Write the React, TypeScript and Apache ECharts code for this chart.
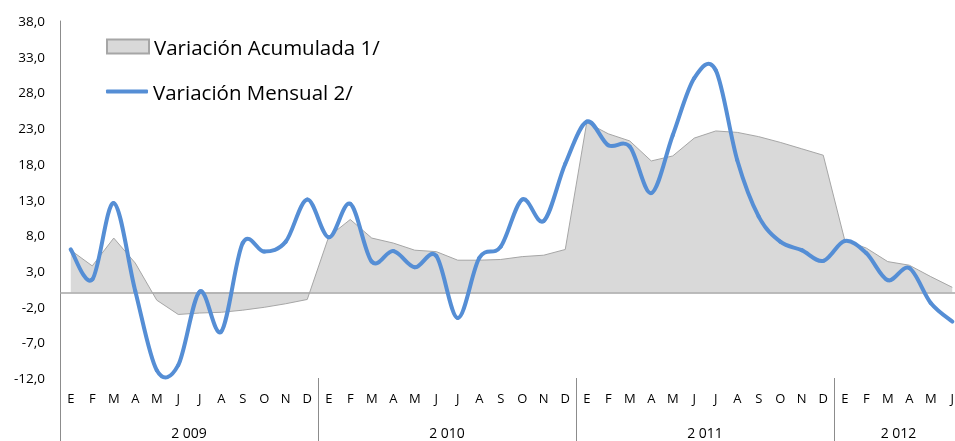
import React, { useEffect, useRef } from "react";
import * as echarts from "echarts";

const monthLabels = [
  "E", "F", "M", "A", "M", "J", "J", "A", "S", "O", "N", "D",
  "E", "F", "M", "A", "M", "J", "J", "A", "S", "O", "N", "D",
  "E", "F", "M", "A", "M", "J", "J", "A", "S", "O", "N", "D",
  "E", "F", "M", "A", "M", "J",
];
const years = ["2 009", "2 010", "2 011", "2 012"];
const monthsPerYear = [12, 12, 12, 6];

const acumulada = [
  5.9, 3.7, 7.6, 4.1, -1.1, -3.1, -2.9, -2.8, -2.5, -2.1, -1.6, -1.0,
  7.8, 10.2, 7.6, 6.9, 5.9, 5.7, 4.5, 4.5, 4.6, 5.0, 5.2, 6.0,
  23.8, 22.2, 21.2, 18.4, 19.1, 21.6, 22.6, 22.4, 21.8, 21.0, 20.1, 19.2,
  7.3, 6.2, 4.3, 3.8, 2.2, 0.7,
];
const mensual = [
  6.0, 1.8, 12.5, 0.2, -10.9, -10.2, 0.1, -5.5, 6.9, 5.7, 7.1, 13.0,
  7.7, 12.4, 4.3, 5.8, 3.5, 5.1, -3.6, 4.8, 6.4, 13.0, 10.0, 18.0,
  23.9, 20.6, 20.4, 13.9, 22.0, 30.0, 31.1, 18.5, 10.6, 7.1, 5.9, 4.4,
  7.2, 5.5, 1.7, 3.4, -1.5, -4.1,
];
const yTicks = [-12, -7, -2, 3, 8, 13, 18, 23, 28, 33, 38];

const FONT = "Open Sans";
const BLUE = "#558ed5";

export default function App() {
  const ref = useRef<HTMLDivElement>(null);
  useEffect(() => {
    if (!ref.current) return;
    const chart = echarts.init(ref.current, null, { renderer: "svg" });

    const totalMonths = monthsPerYear.reduce((a, b) => a + b, 0);
    const halfCount = totalMonths * 2 + 1;
    const yearAxisData: string[] = new Array(halfCount).fill("");
    const yearStarts: number[] = [];
    let start = 0;
    monthsPerYear.forEach((n, i) => {
      yearStarts.push(start * 2);
      yearAxisData[start * 2 + n] = years[i];
      start += n;
    });

    const n = mensual.length;
    const clamp = (k: number) => Math.max(0, Math.min(n - 1, k));

    chart.setOption({
      animation: false,
      grid: {
        left: 60,
        top: 21,
        bottom: 63,
        width: 903,
        containLabel: false,
        outerBoundsMode: "none",
      },
      legend: [
        {
          data: [{ name: "Variación Acumulada 1/", icon: "rect" }],
          left: 101,
          top: 31,
          itemWidth: 42,
          itemHeight: 14,
          textStyle: { fontFamily: FONT, fontSize: 20.5, color: "#000" },
        },
        {
          data: [{ name: "Variación Mensual 2/", icon: "roundRect" }],
          left: 101,
          top: 76,
          itemWidth: 42,
          itemHeight: 4,
          textStyle: { fontFamily: FONT, fontSize: 20.5, color: "#000" },
        },
      ],
      xAxis: [
        {
          type: "category",
          data: monthLabels,
          boundaryGap: true,
          position: "bottom",
          axisLine: { show: false, onZero: false },
          axisTick: { show: false },
          axisLabel: {
            interval: 0,
            margin: 13,
            fontFamily: FONT,
            fontSize: 13,
            color: "#000",
          },
        },
        {
          type: "category",
          data: yearAxisData,
          boundaryGap: false,
          position: "bottom",
          axisLine: { show: false, onZero: false },
          axisTick: {
            show: true,
            length: 63,
            interval: (index: number) => yearStarts.indexOf(index) >= 0,
            lineStyle: { color: "#8c8c8c", width: 1 },
          },
          axisLabel: {
            interval: 0,
            margin: 47,
            fontFamily: FONT,
            fontSize: 14,
            color: "#000",
          },
        },
      ],
      yAxis: {
        type: "value",
        min: -12,
        max: 38,
        axisLine: { show: true, lineStyle: { color: "#8c8c8c", width: 1 } },
        axisTick: { show: false },
        splitLine: { show: false },
        axisLabel: {
          customValues: yTicks,
          margin: 15,
          fontFamily: FONT,
          fontSize: 13.5,
          color: "#000",
          formatter: (v: number) => v.toFixed(1).replace(".", ","),
        },
      },
      series: [
        {
          name: "Variación Acumulada 1/",
          type: "line",
          xAxisIndex: 0,
          data: acumulada,
          symbol: "none",
          smooth: false,
          lineStyle: { color: "#a6a6a6", width: 1 },
          itemStyle: { color: "#d9d9d9", borderColor: "#a6a6a6", borderWidth: 1 },
          areaStyle: { color: "#d9d9d9", opacity: 1, origin: 0 },
          z: 1,
          markLine: {
            silent: true,
            symbol: "none",
            label: { show: false },
            lineStyle: { color: "#a6a6a6", width: 1.5, type: "solid" },
            data: [{ yAxis: 0 }],
          },
        },
        {
          name: "Variación Mensual 2/",
          type: "custom",
          xAxisIndex: 0,
          data: mensual.map((v, i) => [i, v]),
          encode: { x: 0, y: 1 },
          itemStyle: { color: BLUE },
          z: 5,
          renderItem: (params: any, api: any) => {
            const i = api.value(0) as number;
            if (i >= n - 1) return null;
            const p = (k: number) => {
              const c = clamp(k);
              return api.coord([c, mensual[c]]);
            };
            const p0 = p(i - 1);
            const p1 = p(i);
            const p2 = p(i + 1);
            const p3 = p(i + 2);
            const t = 1 / 6;
            return {
              type: "bezierCurve",
              shape: {
                x1: p1[0],
                y1: p1[1],
                x2: p2[0],
                y2: p2[1],
                cpx1: p1[0] + (p2[0] - p0[0]) * t,
                cpy1: p1[1] + (p2[1] - p0[1]) * t,
                cpx2: p2[0] - (p3[0] - p1[0]) * t,
                cpy2: p2[1] - (p3[1] - p1[1]) * t,
              },
              style: {
                stroke: BLUE,
                lineWidth: 4,
                fill: null,
                lineCap: "round",
              },
            };
          },
        },
      ],
    });
    return () => chart.dispose();
  }, []);
  return (
    <div
      ref={ref}
      style={{ position: "fixed", left: 0, top: 0, width: 955, height: 441 }}
    />
  );
}
